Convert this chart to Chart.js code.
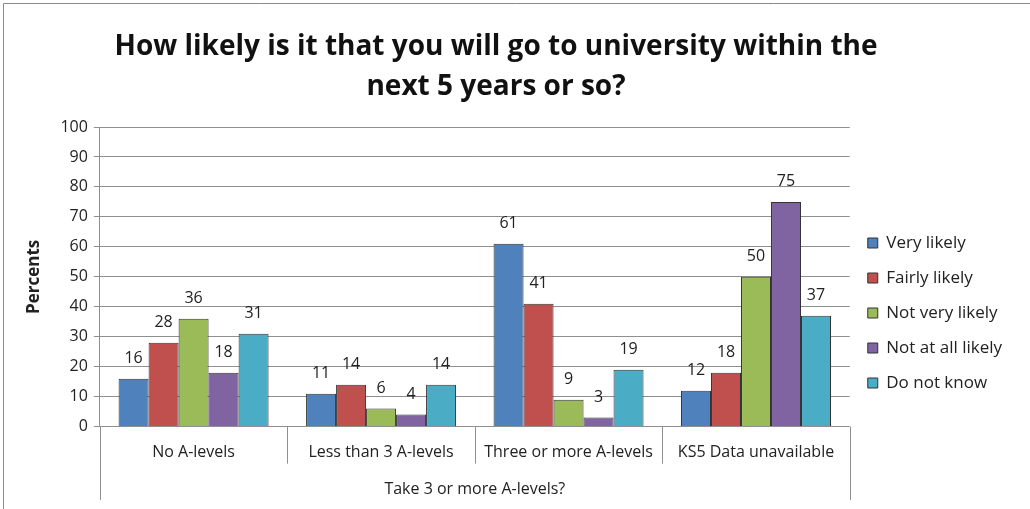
<!DOCTYPE html>
<html>
<head>
<meta charset="utf-8">
<script src="https://cdn.jsdelivr.net/npm/chart.js@4.4.1/dist/chart.umd.min.js"></script>
<style>
  html, body { margin: 0; padding: 0; background: #fff; }
  #wrap { width: 1030px; height: 509px; }
</style>
</head>
<body>
<div id="wrap"><canvas id="myChart" width="1030" height="509"></canvas></div>
<script>
const categories = ["No A-levels", "Less than 3 A-levels", "Three or more A-levels", "KS5 Data unavailable"];
const very_likely = [16, 11, 61, 12];
const fairly_likely = [28, 14, 41, 18];
const not_very_likely = [36, 6, 9, 50];
const not_at_all_likely = [18, 4, 3, 75];
const do_not_know = [31, 14, 19, 37];
const title_lines = ["How likely is it that you will go to university within the", "next 5 years or so?"];

const FONT = "'Open Sans', 'Noto Sans', sans-serif";
const TEXT = "#222";
const GRID = "#8f8f8f";

function series(label, data, color) {
  return {
    label: label,
    data: data,
    backgroundColor: color,
    borderColor: "#333",
    borderWidth: 1,
    barPercentage: 1,
    categoryPercentage: 0.8,
  };
}

// values above each bar
const barLabels = {
  id: "barLabels",
  afterDatasetsDraw(chart) {
    const c = chart.ctx;
    c.save();
    c.font = "16px " + FONT;
    c.fillStyle = TEXT;
    c.textAlign = "center";
    c.textBaseline = "middle";
    chart.data.datasets.forEach((ds, i) => {
      chart.getDatasetMeta(i).data.forEach((bar, j) => {
        c.fillText(ds.data[j], bar.x, bar.y - 20);
      });
    });
    c.restore();
  },
};

// title, outer frame and category separators
const decor = {
  id: "decor",
  afterDraw(chart) {
    const c = chart.ctx;
    const x = chart.scales.x;
    const area = chart.chartArea;
    c.save();
    c.strokeStyle = "#8a8a8a";
    c.lineWidth = 1;
    c.beginPath();
    c.moveTo(3.5, chart.height);
    c.lineTo(3.5, 3.5);
    c.lineTo(chart.width, 3.5);
    c.stroke();

    c.strokeStyle = GRID;
    const n = categories.length;
    const w = (x.right - x.left) / n;
    c.beginPath();
    for (let i = 0; i <= n; i++) {
      const px = Math.round(x.left + i * w) + 0.5;
      const end = i === 0 || i === n ? chart.height - 9 : area.bottom + 37;
      c.moveTo(px, area.bottom);
      c.lineTo(px, end);
    }
    c.stroke();

    c.font = "bold 28px " + FONT;
    c.fillStyle = "#111";
    c.textAlign = "center";
    c.textBaseline = "middle";
    title_lines.forEach((t, i) => c.fillText(t, 496, 47 + i * 40));
    c.restore();
  },
};

const ctx = document.getElementById("myChart");

const chart_ = new Chart(ctx, {
  type: "bar",
  data: {
    labels: categories,
    datasets: [
      series("Very likely", very_likely, "#4f81bd"),
      series("Fairly likely", fairly_likely, "#c0504d"),
      series("Not very likely", not_very_likely, "#9bbb59"),
      series("Not at all likely", not_at_all_likely, "#8064a2"),
      series("Do not know", do_not_know, "#4bacc6"),
    ],
  },
  plugins: [barLabels, decor],
  options: {
    responsive: false,
    animation: false,
    layout: {
      padding: { top: 127, left: 24, right: 18, bottom: 10 },
    },
    plugins: {
      title: { display: false },
      tooltip: { enabled: false },
      legend: {
        position: "right",
        labels: {
          boxWidth: 10,
          boxHeight: 10,
          padding: 18,
          color: TEXT,
          font: { family: FONT, size: 17 },
        },
      },
    },
    scales: {
      x: {
        grid: { display: false },
        border: { display: false },
        ticks: {
          color: TEXT,
          padding: 8,
          maxRotation: 0,
          font: { family: FONT, size: 16 },
        },
        title: {
          display: true,
          text: "Take 3 or more A-levels?",
          color: TEXT,
          padding: { top: 10, bottom: 0 },
          font: { family: FONT, size: 16 },
        },
      },
      y: {
        min: 0,
        max: 100,
        ticks: {
          stepSize: 10,
          color: TEXT,
          padding: 6,
          font: { family: FONT, size: 16 },
        },
        grid: { color: GRID, tickLength: 6 },
        border: { color: GRID },
        title: {
          display: true,
          text: "Percents",
          color: TEXT,
          padding: { top: 0, bottom: 10 },
          font: { family: FONT, size: 17, weight: "bold" },
        },
      },
    },
  },
});
</script>
</body>
</html>
